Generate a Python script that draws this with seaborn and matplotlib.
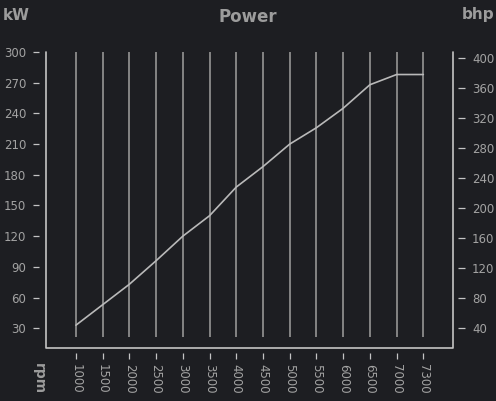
"""Curva de potencia kW / bhp contra rpm."""

import matplotlib
matplotlib.use("Agg")
import matplotlib.pyplot as plt
import pandas as pd
import seaborn as sns

BG = "#1d1e22"
TEXT = "#a3a3a3"
TITLE = "#9c9c9c"
GRID = "#8c8c8c"
FRAME = "#c4c4c4"
CURVE = "#b9b9b9"

rpm = ["1000", "1500", "2000", "2500", "3000", "3500", "4000",
       "4500", "5000", "5500", "6000", "6500", "7000", "7300"]
power_kw = [33, 53, 73, 96, 120, 140, 168, 188, 210, 226, 245, 268, 278, 278]
kw_ticks = [30, 60, 90, 120, 150, 180, 210, 240, 270, 300]
bhp_ticks = [40, 80, 120, 160, 200, 240, 280, 320, 360, 400]

df = pd.DataFrame({"rpm": rpm, "kw": power_kw})

sns.set_theme(style="dark", rc={
    "figure.facecolor": BG,
    "axes.facecolor": BG,
    "text.color": TEXT,
    "xtick.color": TEXT,
    "ytick.color": TEXT,
})
plt.rcParams["font.family"] = ["DejaVu Sans"]

fig = plt.figure(figsize=(4.96, 4.01), dpi=100)
ax = fig.add_axes([0.0927, 0.1329, 0.8206, 0.7374])
ax2 = ax.twinx()

# lineas verticales por cada rpm
ax.vlines(rpm, 21, 300, color=GRID, linewidth=1.3, zorder=1)
sns.lineplot(data=df, x="rpm", y="kw", ax=ax, color=CURVE, linewidth=1.2, zorder=3)

ax.set_xlim(-1.12, 14.11)
ax.set_ylim(11, 300)
ax2.set_ylim(14.2, 408)
ax.set_yticks(kw_ticks)
ax2.set_yticks(bhp_ticks)
ax.set_xlabel("")
ax.set_ylabel("")
ax.grid(False)
ax2.grid(False)

for a in (ax, ax2):
    for s in a.spines.values():
        s.set_visible(False)
ax.spines["left"].set_position(("outward", 5))
ax.spines["bottom"].set_position(("outward", 3.8))
ax2.spines["right"].set_position(("outward", 3.8))

ax.tick_params(axis="y", left=True, length=4.3, width=0.9, color=FRAME, pad=5, labelsize=8.5, labelcolor=TEXT)
ax.tick_params(axis="x", bottom=True, length=4.3, width=0.9, color=FRAME, pad=3.5, labelsize=8.5,
               labelcolor=TEXT, labelrotation=-90)
ax2.tick_params(axis="y", right=True, length=5, width=0.9, color=FRAME, pad=5, labelsize=8.5, labelcolor=TEXT)
for lab in ax.get_xticklabels():
    lab.set_va("top")

# marco izquierdo, inferior y derecho
ax.plot([0, 0, 1, 1], [1, 0, 0, 1], transform=ax.transAxes, color=FRAME, linewidth=1.2,
        clip_on=False, zorder=4)

fig.text(3 / 496, 1 - 15 / 401, "kW", fontsize=11, fontweight="bold", color=TITLE, va="center", ha="left")
fig.text(0.5, 1 - 17 / 401, "Power", fontsize=12, fontweight="bold", color=TITLE, va="center", ha="center")
fig.text(494 / 496, 1 - 15 / 401, "bhp", fontsize=11, fontweight="bold", color=TITLE, va="center", ha="right")
fig.text(39 / 496, 1 - 363 / 401, "rpm", fontsize=10, fontweight="bold", color=TITLE, va="top", ha="center",
         rotation=-90)

fig.savefig("out.png", dpi=100, facecolor=BG)
